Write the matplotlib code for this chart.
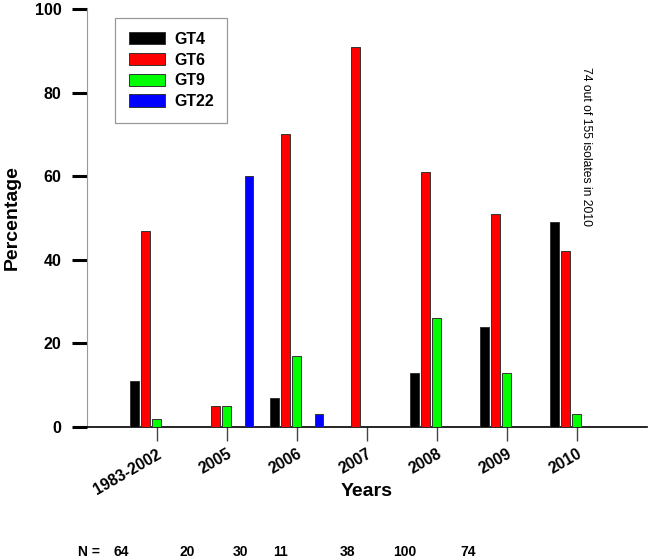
import numpy as np
import matplotlib
matplotlib.use('Agg')
import matplotlib.pyplot as plt

plt.rcParams['font.family'] = ['Liberation Sans', 'DejaVu Sans']

# data
years = ['1983-2002', '2005', '2006', '2007', '2008', '2009', '2010']
gt4 = [11, 0, 7, 0, 13, 24, 49]
gt6 = [47, 5, 70, 91, 61, 51, 42]
gt9 = [2, 5, 17, 0, 26, 13, 3]
gt22 = [0, 60, 3, 0, 0, 0, 0]
n_values = ['64', '20', '30', '11', '38', '100', '74']

series = [('GT4', gt4, '#000000', -2),
          ('GT6', gt6, '#ff0000', -1),
          ('GT9', gt9, '#00ff00', 0),
          ('GT22', gt22, '#0000ff', 2)]

fig = plt.figure(figsize=(6.5, 5.6), dpi=100)
ax = fig.add_axes([0.1334, 0.2375, 0.8615, 0.7464])

x = np.arange(len(years))
w = 0.123
step = 0.16
for name, vals, col, slot in series:
    vals = np.array(vals, dtype=float)
    keep = vals > 0
    ax.bar(x[keep] + slot * step, vals[keep], width=w, color=col,
           edgecolor='#333333', linewidth=0.7, label=name, zorder=3)

ax.set_xlim(-1, 7.0)
ax.set_ylim(0, 100)
ax.set_yticks([0, 20, 40, 60, 80, 100])
ax.set_xticks(x)
ax.set_xticklabels(years, rotation=30, ha='right', rotation_mode='anchor',
                   fontsize=11.3, fontweight='bold')
for lab in ax.get_yticklabels():
    lab.set_fontweight('bold')
    lab.set_fontsize(11.5)

ax.spines['top'].set_visible(False)
ax.spines['right'].set_visible(False)
ax.spines['left'].set_color('#999999')
ax.spines['left'].set_linewidth(0.8)
ax.spines['bottom'].set_color('#000000')
ax.spines['bottom'].set_linewidth(1.2)

ax.tick_params(axis='y', direction='out', length=11, width=2.2, color='black', pad=7)
ax.tick_params(axis='x', direction='out', length=10, width=1.0, color='#444444', pad=4)

ax.set_ylabel('Percentage', fontsize=14, fontweight='bold', labelpad=10)
ax.set_xlabel('Years', fontsize=14, fontweight='bold')
ax.xaxis.set_label_coords(0.5, -0.135)

leg = ax.legend(loc='upper left', bbox_to_anchor=(0.0505, 0.978), borderaxespad=0,
                fancybox=False, edgecolor='#999999', framealpha=1,
                prop={'weight': 'bold', 'size': 11.5}, handlelength=2.3,
                handleheight=0.8, labelspacing=0.36, borderpad=0.85,
                handletextpad=0.55)
leg.get_frame().set_linewidth(0.9)

ax.text(6.14, 67, '74 out of 155 isolates in 2010', rotation=-90,
        ha='center', va='center', fontsize=8.7)

# sample counts under the chart
fig.text(78 / 650, 1 - 552 / 560, 'N =', fontsize=10, fontweight='bold',
         ha='left', va='center')
n_pos = [121.5, 187, 240.5, 280.5, 347, 405, 468.5]
for px, nv in zip(n_pos, n_values):
    fig.text(px / 650, 1 - 552 / 560, nv, fontsize=10, fontweight='bold',
             ha='center', va='center')

fig.savefig('out.png', dpi=100)
